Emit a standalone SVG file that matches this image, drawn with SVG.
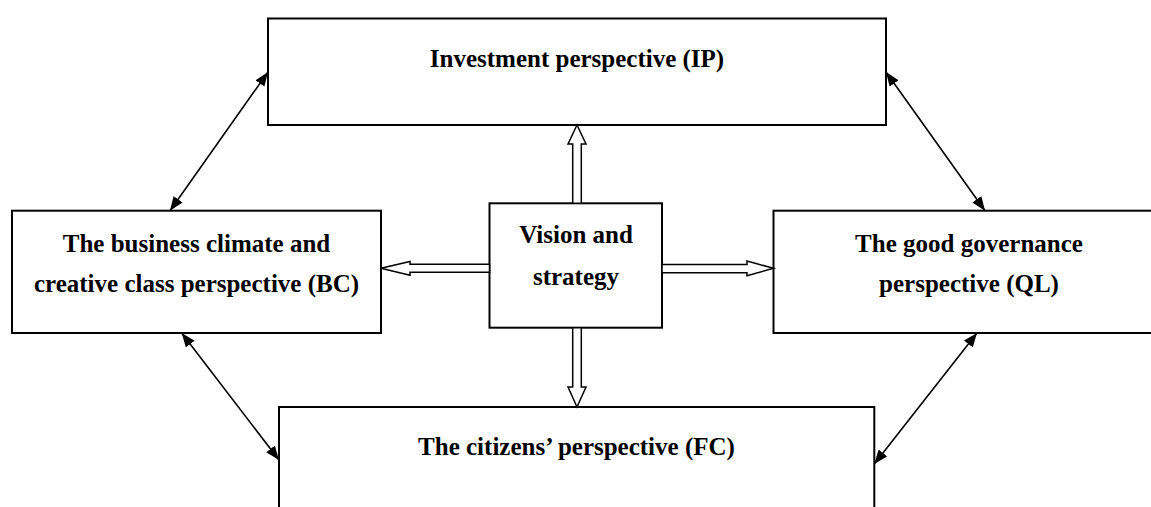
<svg xmlns="http://www.w3.org/2000/svg" width="1151" height="507" viewBox="0 0 1151 507">
  <defs>
    <style>
      .box { fill: #ffffff; stroke: #000000; stroke-width: 2; }
      .label { font-family: "Liberation Serif", "Times New Roman", serif; font-weight: bold; font-size: 25px; fill: #000000; text-anchor: middle; }
      .link { stroke: #000000; stroke-width: 1.6; fill: none; marker-start: url(#head); marker-end: url(#head); }
      .hollow { fill: #ffffff; stroke: #000000; stroke-width: 1.5; stroke-linejoin: miter; }
    </style>
    <marker id="head" markerUnits="userSpaceOnUse" markerWidth="15" markerHeight="12" refX="14" refY="5.5" orient="auto-start-reverse">
      <path d="M0,0 L14,5.5 L0,11 z" fill="#000000"/>
    </marker>
  </defs>

  <rect width="1151" height="507" fill="#ffffff"/>

  <!-- perspective boxes -->
  <g id="ip">
    <rect class="box" x="268" y="18.5" width="618" height="106.5"/>
    <text class="label" x="577" y="67">Investment perspective (IP)</text>
  </g>

  <g id="bc">
    <rect class="box" x="12" y="210.7" width="369" height="122.3"/>
    <text class="label" x="196.5" y="252">The business climate and</text>
    <text class="label" x="196.5" y="292">creative class perspective (BC)</text>
  </g>

  <g id="vision">
    <rect class="box" x="489.5" y="203.3" width="172.5" height="124.4"/>
    <text class="label" x="576" y="243">Vision and</text>
    <text class="label" x="576" y="285">strategy</text>
  </g>

  <g id="ql">
    <rect class="box" x="773.5" y="210.7" width="392" height="122.3"/>
    <text class="label" x="969" y="252">The good governance</text>
    <text class="label" x="969" y="292">perspective (QL)</text>
  </g>

  <g id="fc">
    <rect class="box" x="279" y="407" width="595.3" height="110"/>
    <text class="label" x="576.5" y="455">The citizens’ perspective (FC)</text>
  </g>

  <!-- connectors -->
  <g id="connectors">
    <!-- hollow block arrows out of the vision box -->
    <polygon class="hollow" points="577,125 586,144 581.3,144 581.3,203.3 572.7,203.3 572.7,144 568,144"/>
    <polygon class="hollow" points="572.7,327.7 581.3,327.7 581.3,387 586,387 577,407 568,387 572.7,387"/>
    <polygon class="hollow" points="381,268.3 410,261.5 410,264.3 489.5,264.3 489.5,272.3 410,272.3 410,275.2"/>
    <polygon class="hollow" points="662,264.5 747,264.5 747,261 773.5,268.3 747,275.7 747,272.8 662,272.8"/>

    <!-- two-way links between neighbouring perspectives -->
    <line class="link" x1="170" y1="210.7" x2="268" y2="72"/>
    <line class="link" x1="886" y1="72" x2="985" y2="210.7"/>
    <line class="link" x1="181.7" y1="333" x2="279" y2="460"/>
    <line class="link" x1="977" y1="333" x2="874.3" y2="464"/>
  </g>
</svg>
